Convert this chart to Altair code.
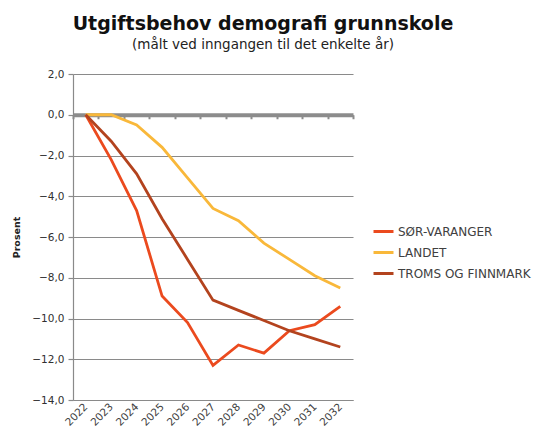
import altair as alt
import pandas as pd

years = [2022, 2023, 2024, 2025, 2026, 2027, 2028, 2029, 2030, 2031, 2032]
sor_varanger = [0.0, -2.2, -4.7, -8.9, -10.2, -12.3, -11.3, -11.7, -10.6, -10.3, -9.4]
landet = [0.0, 0.0, -0.5, -1.6, -3.1, -4.6, -5.2, -6.3, -7.1, -7.9, -8.5]
troms_finnmark = [0.0, -1.3, -2.9, -5.1, -7.1, -9.1, -9.6, -10.1, -10.6, -11.0, -11.4]

series_names = ["SØR-VARANGER", "LANDET", "TROMS OG FINNMARK"]
series_colors = ["#EB4A1E", "#F9B83A", "#B3431E"]
y_ticks = [2, 0, -2, -4, -6, -8, -10, -12, -14]

rows = []
for name, vals in zip(series_names, [sor_varanger, landet, troms_finnmark]):
    for yr, v in zip(years, vals):
        rows.append({"År": yr, "Prosent": v, "Serie": name})
df = pd.DataFrame(rows)

W, H = 280, 326
y_min, y_max = -14, 2
x_dom = [years[0] - 0.5, years[-1] + 0.5]
boundaries = [years[0] - 0.5 + i for i in range(len(years) + 1)]
zero_offset = -H * (0 - y_min) / (y_max - y_min)

FONT = "DejaVu Sans"
GRID = "#8a8a8a"

x_scale = alt.Scale(domain=x_dom, nice=False, zero=False)
y_scale = alt.Scale(domain=[y_min, y_max], nice=False, zero=False)

lines = alt.Chart(df).mark_line(strokeWidth=2.8).encode(
    x=alt.X("År:Q", scale=x_scale,
            axis=alt.Axis(values=years, format="d", labelAngle=-45, labelAlign="right",
                          labelBaseline="middle", labelOverlap=False, ticks=False, grid=False,
                          domain=True, domainColor=GRID, domainWidth=1.2, labelFont=FONT,
                          labelFontSize=10.5, labelColor="#404040", labelPadding=5, title=None,
                          orient="bottom")),
    y=alt.Y("Prosent:Q", scale=y_scale,
            axis=alt.Axis(values=y_ticks, labelExpr="replace(format(datum.value, '.1f'), '.', ',')",
                          grid=True, gridColor=GRID, gridWidth=1.2, domainColor=GRID, domainWidth=1.2,
                          tickColor=GRID, tickSize=5, tickWidth=1.2, labelFont=FONT, labelFontSize=10.5,
                          labelColor="#303030", labelPadding=4,
                          title="Prosent", titleFont=FONT, titleFontSize=9.5, titleFontWeight="bold",
                          titleColor="#202020", titleX=-52, titleY=H / 2, titleAngle=-90,
                          titleAlign="center", titleBaseline="bottom")),
    color=alt.Color("Serie:N", sort=series_names,
                    scale=alt.Scale(domain=series_names, range=series_colors),
                    legend=alt.Legend(orient="none", legendX=299, legendY=146, title=None,
                                      symbolType="stroke", symbolSize=400, symbolStrokeWidth=3,
                                      rowPadding=3, labelOffset=3, labelFont=FONT, labelFontSize=12,
                                      labelColor="#404040", padding=0, labelLimit=200)),
)

zero_df = pd.DataFrame({"År": years, "v": [0.0] * len(years)})
zero_axis = alt.Chart(zero_df).mark_point(opacity=0).encode(
    x=alt.X("År:Q", scale=x_scale,
            axis=alt.Axis(values=boundaries, labels=False, grid=False, domain=True,
                          domainColor="#8c8c8c", domainWidth=4, ticks=True, tickColor="#8c8c8c",
                          tickSize=4, tickWidth=2, offset=zero_offset, title=None, orient="bottom")),
    y=alt.Y("v:Q", scale=y_scale),
)

chart = alt.layer(zero_axis, lines).resolve_axis(x="independent").properties(
    width=W, height=H,
    autosize=alt.AutoSizeParams(type="none"),
    padding={"left": 65, "top": 66, "right": 184, "bottom": 35},
    title=alt.TitleParams(
        text="Utgiftsbehov demografi grunnskole",
        subtitle="(målt ved inngangen til det enkelte år)",
        anchor="middle", frame="group", dx=50, offset=18,
        font=FONT, fontSize=19, fontWeight="bold", color="#111111",
        subtitleFont=FONT, subtitleFontSize=13.5, subtitleColor="#222222", subtitlePadding=4,
    ),
).configure_view(stroke=None)

chart.save("out.html", embed_options={"renderer": "svg", "actions": False})
